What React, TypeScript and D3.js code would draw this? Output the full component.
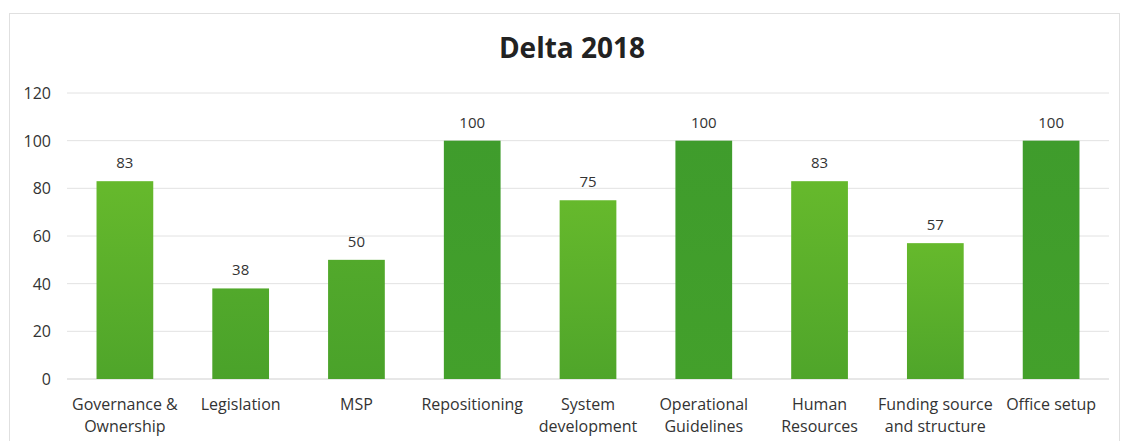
import React from "react";
import * as d3 from "d3";

const categories = [
  "Governance & Ownership",
  "Legislation",
  "MSP",
  "Repositioning",
  "System development",
  "Operational Guidelines",
  "Human Resources",
  "Funding source and structure",
  "Office setup",
];
const labelLines = [
  ["Governance &", "Ownership"],
  ["Legislation"],
  ["MSP"],
  ["Repositioning"],
  ["System", "development"],
  ["Operational", "Guidelines"],
  ["Human", "Resources"],
  ["Funding source", "and structure"],
  ["Office setup"],
];
const values = [83, 38, 50, 100, 75, 100, 83, 57, 100];
const yTicks = [0, 20, 40, 60, 80, 100, 120];
const title = "Delta 2018";
const barTones = ["light", "mid", "mid", "dark", "light", "dark", "light", "light", "dark"];

const W = 1122;
const H = 441;
const M = { left: 67, right: 13, top: 93, bottom: 62 };

export default function App() {
  const x = d3
    .scaleBand<string>()
    .domain(categories)
    .range([M.left, W - M.right])
    .paddingInner(0.51)
    .paddingOuter(0.255);
  const y = d3.scaleLinear().domain([0, 120]).range([H - M.bottom, M.top]);
  const font = "'Open Sans', 'Noto Sans', sans-serif";

  return (
    <svg
      width={W}
      height={H}
      style={{ position: "absolute", left: 0, top: 0, background: "#fff" }}
      fontFamily={font}
    >
      <defs>
        <linearGradient id="g-light" x1="0" y1="0" x2="0" y2="1">
          <stop offset="0" stopColor="#66b92c" />
          <stop offset="1" stopColor="#4fa52a" />
        </linearGradient>
        <linearGradient id="g-mid" x1="0" y1="0" x2="0" y2="1">
          <stop offset="0" stopColor="#52a92b" />
          <stop offset="1" stopColor="#4aa22a" />
        </linearGradient>
        <linearGradient id="g-dark" x1="0" y1="0" x2="0" y2="1">
          <stop offset="0" stopColor="#3f9c2c" />
          <stop offset="1" stopColor="#43a02b" />
        </linearGradient>
      </defs>
      <rect x={9.5} y={13.5} width={W - 12} height={H} fill="none" stroke="#e0e0e0" strokeWidth={1} />
      <text
        x={572}
        y={58}
        textAnchor="middle"
        fontSize={28}
        fontWeight="bold"
        fill="#222"
      >
        {title}
      </text>
      {yTicks.map((t) => (
        <g key={t}>
          <line
            x1={M.left}
            x2={W - M.right}
            y1={y(t)}
            y2={y(t)}
            stroke={t === 0 ? "#cfcfcf" : "#e2e2e2"}
            strokeWidth={1}
          />
          <text x={51} y={y(t) + 6} textAnchor="end" fontSize={16} fill="#333">
            {t}
          </text>
        </g>
      ))}
      {categories.map((c, i) => {
        const bx = x(c)!;
        const bw = x.bandwidth();
        const top = y(values[i]);
        return (
          <g key={c}>
            <rect
              x={bx}
              y={top}
              width={bw}
              height={y(0) - top}
              fill={`url(#g-${barTones[i]})`}
            />
            <text
              x={bx + bw / 2}
              y={top - 13}
              textAnchor="middle"
              fontSize={15}
              fill="#333"
            >
              {values[i]}
            </text>
            {labelLines[i].map((ln, j) => (
              <text
                key={j}
                x={bx + bw / 2}
                y={410 + j * 22}
                textAnchor="middle"
                fontSize={16}
                fill="#333"
              >
                {ln}
              </text>
            ))}
          </g>
        );
      })}
    </svg>
  );
}
